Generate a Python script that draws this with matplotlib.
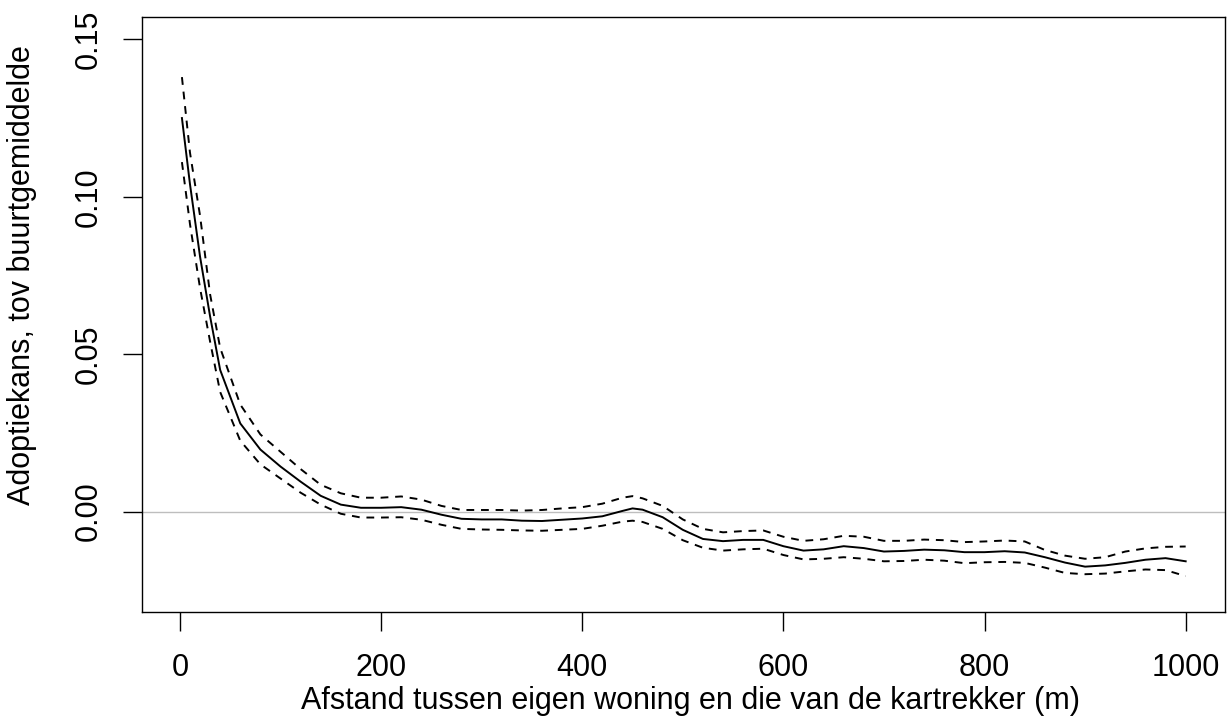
import matplotlib
matplotlib.use('Agg')
import matplotlib.pyplot as plt

plt.rcParams['font.family'] = ['Liberation Sans', 'DejaVu Sans']

# afstand (m)
afstand = [2, 10, 20, 30, 40, 60, 80, 100, 120, 140, 160, 180, 200, 220, 240, 260,
           280, 300, 320, 340, 360, 380, 400, 420, 440, 450, 460, 480, 500, 520,
           540, 560, 580, 600, 620, 640, 660, 680, 700, 720, 740, 760, 780, 800,
           820, 840, 860, 880, 900, 920, 940, 960, 980, 1000]

# schatting
schatting = [0.125, 0.104, 0.081, 0.062, 0.045, 0.028, 0.0197, 0.0143, 0.0095,
             0.005, 0.0022, 0.0012, 0.0012, 0.0014, 0.0006, -0.0010, -0.0023,
             -0.0025, -0.0025, -0.0029, -0.0030, -0.0026, -0.0022, -0.0015,
             0.0002, 0.0010, 0.0006, -0.0018, -0.0058, -0.0087, -0.0094, -0.0090,
             -0.0090, -0.0110, -0.0124, -0.0120, -0.0110, -0.0116, -0.0127,
             -0.0125, -0.0121, -0.0123, -0.0129, -0.0129, -0.0126, -0.0130,
             -0.0145, -0.0162, -0.0175, -0.0171, -0.0163, -0.0153, -0.0148, -0.0158]

# bovengrens betrouwbaarheidsinterval
boven = [0.138, 0.114, 0.094, 0.069, 0.052, 0.034, 0.0245, 0.019, 0.0135, 0.0085,
         0.0058, 0.0044, 0.0044, 0.0048, 0.0038, 0.0018, 0.0005, 0.0005, 0.0005,
         0.0003, 0.0005, 0.0010, 0.0014, 0.0025, 0.0044, 0.0049, 0.0042, 0.0018,
         -0.0025, -0.0055, -0.0066, -0.0062, -0.0060, -0.0080, -0.0093, -0.0088,
         -0.0077, -0.0080, -0.0093, -0.0093, -0.0089, -0.0091, -0.0097, -0.0095,
         -0.0092, -0.0095, -0.0122, -0.0140, -0.0150, -0.0145, -0.0127, -0.0117,
         -0.0112, -0.0111]

# ondergrens betrouwbaarheidsinterval
onder = [0.111, 0.0913, 0.071, 0.054, 0.038, 0.0225, 0.015, 0.0105, 0.006, 0.0022,
         -0.0007, -0.0019, -0.0019, -0.0018, -0.0026, -0.0042, -0.0055, -0.0057,
         -0.0058, -0.0060, -0.0061, -0.0058, -0.0055, -0.0045, -0.0032, -0.0029,
         -0.0033, -0.0055, -0.0091, -0.0115, -0.0124, -0.0120, -0.0118, -0.0138,
         -0.0152, -0.0150, -0.0145, -0.0150, -0.0158, -0.0157, -0.0153, -0.0156,
         -0.0164, -0.0161, -0.0160, -0.0163, -0.0178, -0.0195, -0.0199, -0.0197,
         -0.0190, -0.0184, -0.0186, -0.0205]

x_ticks = [0, 200, 400, 600, 800, 1000]
y_ticks = [0.00, 0.05, 0.10, 0.15]
y_labels = ['0.00', '0.05', '0.10', '0.15']

fig = plt.figure(figsize=(12.28, 7.27), dpi=100)
ax = fig.add_axes([141.7 / 1228, 1 - 612.3 / 727, (1225.3 - 141.7) / 1228, (612.3 - 17.3) / 727])

ax.axhline(0, color='#bebebe', lw=1.0, zorder=1)
ax.plot(afstand, schatting, color='black', lw=1.4, zorder=3)
ax.plot(afstand, boven, color='black', lw=1.4, linestyle=(0, (4, 3.5)), zorder=3)
ax.plot(afstand, onder, color='black', lw=1.4, linestyle=(0, (4, 3.5)), zorder=3)

ax.set_xlim(-38, 1039.4)
ax.set_ylim(-0.032, 0.157)

ax.set_xticks(x_ticks)
ax.set_yticks(y_ticks)
ax.set_yticklabels(y_labels, rotation=90, va='center')
ax.tick_params(axis='both', direction='out', length=13.5, width=1.0, labelsize=22)
ax.tick_params(axis='x', pad=16)
ax.tick_params(axis='y', pad=14)

for s in ax.spines.values():
    s.set_linewidth(1.0)

ax.set_xlabel('Afstand tussen eigen woning en die van de kartrekker (m)', fontsize=22)
ax.set_ylabel('Adoptiekans, tov buurtgemiddelde', fontsize=22)
ax.xaxis.set_label_coords(0.506, -0.124)
ax.yaxis.set_label_coords(-0.0966, 0.567)

fig.savefig('out.png', dpi=100)
